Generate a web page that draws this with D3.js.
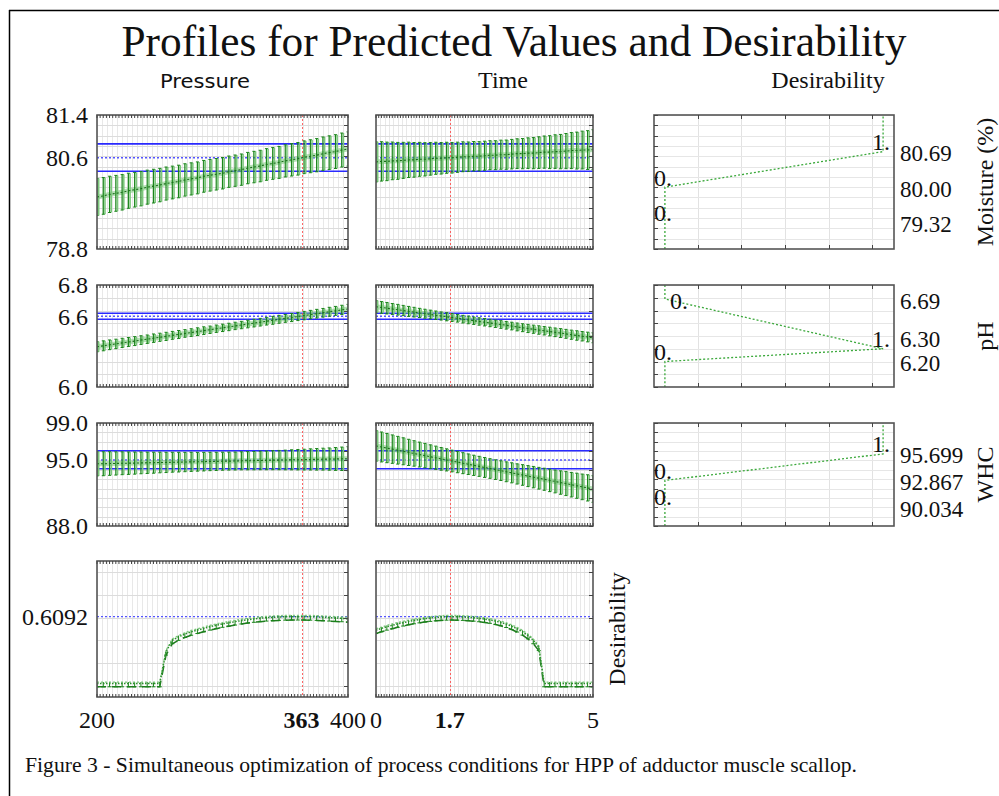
<!DOCTYPE html>
<html><head><meta charset="utf-8">
<script src="https://cdn.jsdelivr.net/npm/d3@7"></script>
<style>body{margin:0;background:#fff}svg{display:block}</style>
</head><body>
<svg id="c" width="999" height="796"></svg>
<script>
// ---------------- DATA ----------------
const titleText = "Profiles for Predicted Values and Desirability";
const captionText = "Figure 3 - Simultaneous optimization of process conditions for HPP of adductor muscle scallop.";
const factorNames = ["Pressure", "Time", "Desirability"];
const responseNames = ["Moisture (%)", "pH", "WHC"];

const pressureLevels = [200,205,210,215,220,225,230,235,240,245,250,255,260,265,270,275,280,285,290,295,300,305,310,315,320,325,330,335,340,345,350,355,360,365,370,375,380,385,390,395,400];
const timeLevels = [0,0.125,0.25,0.375,0.5,0.625,0.75,0.875,1,1.125,1.25,1.375,1.5,1.625,1.75,1.875,2,2.125,2.25,2.375,2.5,2.625,2.75,2.875,3,3.125,3.25,3.375,3.5,3.625,3.75,3.875,4,4.125,4.25,4.375,4.5,4.625,4.75,4.875,5];

const pressureDomain = [200, 400];
const timeDomain = [0, 5];
const optPressure = 363;
const optTime = 1.7;
const pressureTickVals = [200, 363, 400];
const pressureTickText = ["200", "363", "400"];
const timeTickVals = [0, 1.7, 5];
const timeTickText = ["0", "1.7", "5"];

// Moisture (%)
const moistureDomain = [78.8, 81.4];
const moistureGridStep = 0.2;
const moisturePred = 80.57;
const moistureCI = [80.31, 80.84];
const moistureAxisVals = [81.4, 80.57, 78.8];
const moistureAxisText = ["81.4", "80.6", "78.8"];
const moisturePMean = [79.81,79.83,79.86,79.88,79.90,79.93,79.95,79.97,80.00,80.02,80.04,80.07,80.09,80.11,80.14,80.16,80.18,80.21,80.23,80.25,80.27,80.30,80.32,80.34,80.37,80.39,80.41,80.44,80.46,80.48,80.51,80.53,80.55,80.58,80.60,80.62,80.65,80.67,80.69,80.72,80.74];
const moisturePHalf = [0.36,0.356,0.352,0.348,0.344,0.340,0.336,0.333,0.330,0.327,0.324,0.321,0.318,0.316,0.314,0.312,0.310,0.308,0.307,0.306,0.305,0.304,0.304,0.304,0.304,0.305,0.306,0.307,0.308,0.310,0.312,0.314,0.316,0.318,0.320,0.322,0.324,0.326,0.328,0.330,0.332];
const moistureTMean = [80.49,80.50,80.50,80.51,80.51,80.52,80.53,80.53,80.54,80.54,80.55,80.56,80.56,80.57,80.57,80.58,80.59,80.59,80.60,80.60,80.61,80.62,80.62,80.63,80.63,80.64,80.65,80.65,80.66,80.66,80.67,80.68,80.68,80.69,80.69,80.70,80.71,80.71,80.72,80.72,80.73];
const moistureTHalf = [0.390,0.382,0.374,0.366,0.358,0.350,0.343,0.336,0.329,0.323,0.317,0.311,0.306,0.301,0.297,0.293,0.290,0.287,0.285,0.283,0.282,0.281,0.281,0.282,0.284,0.286,0.289,0.293,0.297,0.302,0.307,0.313,0.319,0.326,0.333,0.341,0.349,0.358,0.367,0.376,0.385];
const moistureDesPts = [[0,78.8],[0,80.00],[1,80.69],[1,81.4]];
const moistureDesLabelVals = [[0,80.00],[0,79.32],[1,80.69]];
const moistureDesAxisVals = [80.69, 80.00, 79.32];
const moistureDesAxisText = ["80.69", "80.00", "79.32"];

// pH
const phDomain = [6.0, 6.8];
const phGridStep = 0.1;
const phPred = 6.555;
const phCI = [6.531, 6.578];
const phAxisVals = [6.8, 6.555, 6.0];
const phAxisText = ["6.8", "6.6", "6.0"];
const phPMean = [6.316,6.323,6.331,6.338,6.346,6.353,6.360,6.368,6.375,6.383,6.390,6.397,6.405,6.412,6.420,6.427,6.434,6.442,6.449,6.457,6.464,6.471,6.479,6.486,6.494,6.501,6.508,6.516,6.523,6.531,6.538,6.545,6.553,6.560,6.568,6.575,6.582,6.590,6.597,6.605,6.612];
const phPHalf = [0.040,0.039,0.038,0.037,0.036,0.035,0.035,0.034,0.033,0.033,0.032,0.032,0.031,0.031,0.030,0.030,0.030,0.030,0.029,0.029,0.029,0.029,0.029,0.029,0.030,0.030,0.030,0.030,0.031,0.031,0.031,0.032,0.032,0.033,0.033,0.034,0.034,0.035,0.035,0.036,0.036];
const phTMean = [6.630,6.624,6.618,6.612,6.606,6.600,6.593,6.587,6.581,6.575,6.569,6.563,6.557,6.551,6.545,6.539,6.532,6.526,6.520,6.514,6.508,6.502,6.496,6.490,6.484,6.478,6.471,6.465,6.459,6.453,6.447,6.441,6.435,6.429,6.423,6.417,6.410,6.404,6.398,6.392,6.386];
const phTHalf = [0.048,0.046,0.045,0.043,0.042,0.040,0.039,0.038,0.036,0.035,0.034,0.033,0.032,0.032,0.031,0.030,0.030,0.030,0.029,0.029,0.029,0.029,0.029,0.030,0.030,0.030,0.031,0.031,0.032,0.032,0.033,0.033,0.034,0.034,0.035,0.035,0.036,0.037,0.037,0.038,0.039];
const phDesPts = [[0,6.8],[0,6.69],[1,6.30],[0,6.20],[0,6.0]];
const phDesLabelVals = [[0,6.69],[1,6.30],[0,6.20]];
const phDesAxisVals = [6.69, 6.30, 6.20];
const phDesAxisText = ["6.69", "6.30", "6.20"];

// WHC
const whcDomain = [88.0, 99.0];
const whcGridStep = 1.0;
const whcPred = 95.05;
const whcCI = [94.12, 96.04];
const whcAxisVals = [99.0, 95.05, 88.0];
const whcAxisText = ["99.0", "95.0", "88.0"];
const whcPMean = [94.64,94.65,94.67,94.68,94.70,94.71,94.72,94.74,94.75,94.76,94.78,94.79,94.81,94.82,94.83,94.85,94.86,94.87,94.89,94.90,94.92,94.93,94.94,94.96,94.97,94.98,95.00,95.01,95.03,95.04,95.05,95.07,95.08,95.09,95.11,95.12,95.14,95.15,95.16,95.18,95.19];
const whcPHalf = [1.30,1.28,1.26,1.24,1.22,1.20,1.18,1.16,1.14,1.12,1.10,1.08,1.06,1.05,1.03,1.02,1.00,0.99,0.98,0.97,0.96,0.96,0.96,0.96,0.97,0.98,0.99,1.00,1.02,1.03,1.05,1.07,1.09,1.11,1.13,1.15,1.17,1.19,1.22,1.25,1.28];
const whcTMean = [96.55,96.44,96.32,96.21,96.09,95.98,95.86,95.75,95.63,95.52,95.40,95.29,95.17,95.06,94.94,94.83,94.71,94.60,94.48,94.37,94.25,94.14,94.02,93.91,93.79,93.68,93.56,93.45,93.33,93.22,93.10,92.99,92.87,92.76,92.64,92.53,92.41,92.30,92.18,92.07,91.95];
const whcTHalf = [1.64,1.60,1.56,1.52,1.48,1.44,1.40,1.36,1.33,1.30,1.27,1.24,1.21,1.18,1.16,1.14,1.12,1.10,1.08,1.07,1.06,1.05,1.05,1.05,1.06,1.07,1.08,1.10,1.12,1.14,1.16,1.18,1.20,1.22,1.25,1.28,1.31,1.34,1.37,1.40,1.42];
const whcDesPts = [[0,88.0],[0,92.867],[1,95.699],[1,99.0]];
const whcDesLabelVals = [[1,95.699],[0,92.867],[0,90.034]];
const whcDesAxisVals = [95.699, 92.867, 90.034];
const whcDesAxisText = ["95.699", "92.867", "90.034"];

// Overall desirability
const desirDomain = [-0.1, 1.1];
const desirGrid = [0, 0.2, 0.4, 0.6, 0.8, 1.0];
const desirPred = 0.6092;
const desirAxisText = ["0.6092"];
const desirPMean = [0.02,0.02,0.02,0.02,0.02,0.02,0.02,0.02,0.02,0.02,0.02,0.30,0.40,0.43,0.455,0.475,0.49,0.505,0.52,0.533,0.545,0.555,0.565,0.574,0.582,0.589,0.595,0.600,0.603,0.606,0.608,0.609,0.609,0.609,0.608,0.606,0.603,0.600,0.597,0.594,0.590];
const desirTMean = [0.49,0.505,0.52,0.533,0.545,0.556,0.567,0.576,0.584,0.591,0.597,0.602,0.606,0.608,0.609,0.608,0.606,0.603,0.599,0.594,0.588,0.580,0.570,0.558,0.543,0.525,0.503,0.476,0.443,0.400,0.340,0.02,0.02,0.02,0.02,0.02,0.02,0.02,0.02,0.02,0.02];
const desirBand = 0.03;
const desFuncDomain = [-0.05, 1.05];
const desFuncGrid = [0.15, 0.35, 0.55, 0.75, 0.95];

// ---------------- LAYOUT / STYLE ----------------
const serif = '"Liberation Serif","Times New Roman",Times,serif';
const sans = '"DejaVu Sans",Verdana,sans-serif';
const colP = {x0: 97, x1: 348};
const colT = {x0: 376, x1: 593};
const colD = {x0: 654, x1: 894};
const rows = [{y0:115,y1:249},{y0:285,y1:387},{y0:423,y1:526},{y0:561,y1:697}];
const GREEN = "#1a851a", LGREEN = "#7cc87c";

const svg = d3.select("#c");
const defs = svg.append("defs");
svg.append("rect").attr("width",999).attr("height",796).attr("fill","#fff");

// outer frame
svg.append("line").attr("x1",9.5).attr("x2",9.5).attr("y1",10).attr("y2",796).attr("stroke","#000").attr("stroke-width",1.5);
svg.append("line").attr("x1",9).attr("x2",999).attr("y1",10.5).attr("y2",10.5).attr("stroke","#000").attr("stroke-width",1.5);

// title
svg.append("text").attr("x",514).attr("y",56).attr("text-anchor","middle")
  .attr("font-family",serif).attr("font-size",45).attr("fill","#111")
  .attr("textLength",785).attr("lengthAdjust","spacingAndGlyphs").text(titleText);
// headers
svg.append("text").attr("x",205).attr("y",88).attr("text-anchor","middle").attr("font-family",sans)
  .attr("font-size",20).attr("fill","#111").attr("textLength",90).attr("lengthAdjust","spacingAndGlyphs").text(factorNames[0]);
svg.append("text").attr("x",503).attr("y",88).attr("text-anchor","middle").attr("font-family",serif)
  .attr("font-size",24).attr("fill","#111").text(factorNames[1]);
svg.append("text").attr("x",828).attr("y",88).attr("text-anchor","middle").attr("font-family",serif)
  .attr("font-size",24).attr("fill","#111").text(factorNames[2]);
// caption
svg.append("text").attr("x",25).attr("y",772).attr("font-family",serif).attr("font-size",21.5)
  .attr("fill","#111").attr("textLength",832).attr("lengthAdjust","spacingAndGlyphs").text(captionText);

let clipN = 0;
function clipFor(x0,y0,x1,y1){
  const id = "cp"+(clipN++);
  defs.append("clipPath").attr("id",id).append("rect").attr("x",x0).attr("y",y0).attr("width",x1-x0).attr("height",y1-y0);
  return "url(#"+id+")";
}
function evenTicks(domain, n){
  const out=[]; for(let i=0;i<=n;i++) out.push(domain[0]+(domain[1]-domain[0])*i/n); return out;
}
const crisp = v => Math.round(v)+0.5;

function profilePanel(o){
  const x = d3.scaleLinear().domain(o.xDomain).range([o.col.x0,o.col.x1]);
  const y = d3.scaleLinear().domain(o.yDomain).range([o.row.y1,o.row.y0]);
  const g = svg.append("g");
  const inner = g.append("g").attr("clip-path", clipFor(o.col.x0,o.row.y0,o.col.x1,o.row.y1));
  inner.selectAll(null).data(evenTicks(o.xDomain,50)).join("line")
    .attr("x1",d=>crisp(x(d))).attr("x2",d=>crisp(x(d))).attr("y1",o.row.y0).attr("y2",o.row.y1)
    .attr("stroke","#e8e8e8").attr("stroke-width",1);
  inner.selectAll(null).data(o.hGrid).join("line")
    .attr("x1",o.col.x0).attr("x2",o.col.x1).attr("y1",d=>crisp(y(d))).attr("y2",d=>crisp(y(d)))
    .attr("stroke","#dcdcdc").attr("stroke-width",1);
  if(o.ci){
    o.ci.forEach(v=>inner.append("line").attr("x1",o.col.x0).attr("x2",o.col.x1).attr("y1",y(v)).attr("y2",y(v))
      .attr("stroke","#2a2aff").attr("stroke-width",1.6));
  }
  inner.append("line").attr("x1",o.col.x0).attr("x2",o.col.x1).attr("y1",y(o.pred)).attr("y2",y(o.pred))
    .attr("stroke","#5555ff").attr("stroke-width",1.4).attr("stroke-dasharray","2,2");

  const pts = o.xs.map((xv,i)=>({x:xv, m:o.mean[i], h:o.half?o.half[i]:o.band}));
  const line = d3.line().x(d=>x(d.x));
  if(!o.isDesir){
    inner.append("path").datum(pts).attr("fill","none").attr("stroke",LGREEN).attr("stroke-width",5).attr("opacity",0.55)
      .attr("d", line.y(d=>y(d.m)));
    const bars = inner.selectAll(null).data(pts).join("g");
    bars.append("line").attr("x1",d=>x(d.x)+1.7).attr("x2",d=>x(d.x)+1.7)
      .attr("y1",d=>y(d.m-d.h)).attr("y2",d=>y(d.m+d.h)).attr("stroke",LGREEN).attr("stroke-width",1.6);
    bars.append("line").attr("x1",d=>x(d.x)).attr("x2",d=>x(d.x))
      .attr("y1",d=>y(d.m-d.h)).attr("y2",d=>y(d.m+d.h)).attr("stroke",GREEN).attr("stroke-width",1.2);
    bars.append("line").attr("x1",d=>x(d.x)-1.5).attr("x2",d=>x(d.x)+1.5)
      .attr("y1",d=>y(d.m+d.h)).attr("y2",d=>y(d.m+d.h)).attr("stroke",GREEN).attr("stroke-width",1);
    bars.append("line").attr("x1",d=>x(d.x)-1.5).attr("x2",d=>x(d.x)+1.5)
      .attr("y1",d=>y(d.m-d.h)).attr("y2",d=>y(d.m-d.h)).attr("stroke",GREEN).attr("stroke-width",1);
    inner.append("path").datum(pts).attr("fill","none").attr("stroke","#1a6f1a").attr("stroke-width",1.1)
      .attr("stroke-dasharray","2,2").attr("d", line.y(d=>y(d.m)));
  } else {
    inner.append("path").datum(pts).attr("fill","none").attr("stroke","#1f7a1f").attr("stroke-width",1.5)
      .attr("stroke-dasharray","9,6").attr("d", line.y(d=>y(d.m-d.h)));
    const bars = inner.selectAll(null).data(pts).join("g");
    bars.append("line").attr("x1",d=>x(d.x)).attr("x2",d=>x(d.x))
      .attr("y1",d=>y(d.m-d.h)).attr("y2",d=>y(d.m+d.h*0.4)).attr("stroke",GREEN).attr("stroke-width",1);
    bars.append("line").attr("x1",d=>x(d.x)-2).attr("x2",d=>x(d.x)+2)
      .attr("y1",d=>y(d.m-d.h)).attr("y2",d=>y(d.m-d.h)).attr("stroke",GREEN).attr("stroke-width",1);
    inner.append("path").datum(pts).attr("fill","none").attr("stroke",LGREEN).attr("stroke-width",1.3)
      .attr("stroke-dasharray","2,2").attr("d", line.y(d=>y(d.m+d.h*0.4)));
    inner.append("path").datum(pts).attr("fill","none").attr("stroke","#2a8f2a").attr("stroke-width",1.5)
      .attr("stroke-dasharray","1.5,1.5").attr("d", line.y(d=>y(d.m)));
  }
  inner.append("line").attr("x1",crisp(x(o.opt))).attr("x2",crisp(x(o.opt))).attr("y1",o.row.y0).attr("y2",o.row.y1)
    .attr("stroke","#ff4040").attr("stroke-width",1).attr("stroke-dasharray","2,2").attr("opacity",0.8);
  g.append("rect").attr("x",o.col.x0).attr("y",o.row.y0).attr("width",o.col.x1-o.col.x0).attr("height",o.row.y1-o.row.y0)
    .attr("fill","none").attr("stroke","#555").attr("stroke-width",1.6);
  g.selectAll(null).data(o.hGrid).join("line").attr("x1",o.col.x1-4).attr("x2",o.col.x1)
    .attr("y1",d=>crisp(y(d))).attr("y2",d=>crisp(y(d))).attr("stroke","#444").attr("stroke-width",1);
  const et = evenTicks(o.xDomain,80);
  g.selectAll(null).data(et).join("line").attr("x1",d=>x(d)).attr("x2",d=>x(d))
    .attr("y1",o.row.y0).attr("y2",o.row.y0+3).attr("stroke","#444").attr("stroke-width",1);
  g.selectAll(null).data(et).join("line").attr("x1",d=>x(d)).attr("x2",d=>x(d))
    .attr("y1",o.row.y1-3).attr("y2",o.row.y1).attr("stroke","#444").attr("stroke-width",1);
  return {x,y};
}

function gridVals(domain, step){
  const n = Math.round((domain[1]-domain[0])/step);
  const out=[]; for(let i=0;i<=n;i++) out.push(+(domain[0]+i*step).toFixed(4)); return out;
}

const responses = [
  {domain:moistureDomain, step:moistureGridStep, pred:moisturePred, ci:moistureCI, axisVals:moistureAxisVals, axisText:moistureAxisText,
   pMean:moisturePMean, pHalf:moisturePHalf, tMean:moistureTMean, tHalf:moistureTHalf,
   desPts:moistureDesPts, desLabs:moistureDesLabelVals, desAxisVals:moistureDesAxisVals, desAxisText:moistureDesAxisText},
  {domain:phDomain, step:phGridStep, pred:phPred, ci:phCI, axisVals:phAxisVals, axisText:phAxisText,
   pMean:phPMean, pHalf:phPHalf, tMean:phTMean, tHalf:phTHalf,
   desPts:phDesPts, desLabs:phDesLabelVals, desAxisVals:phDesAxisVals, desAxisText:phDesAxisText},
  {domain:whcDomain, step:whcGridStep, pred:whcPred, ci:whcCI, axisVals:whcAxisVals, axisText:whcAxisText,
   pMean:whcPMean, pHalf:whcPHalf, tMean:whcTMean, tHalf:whcTHalf,
   desPts:whcDesPts, desLabs:whcDesLabelVals, desAxisVals:whcDesAxisVals, desAxisText:whcDesAxisText}
];

responses.forEach((r,ri)=>{
  const row = rows[ri];
  const hGrid = gridVals(r.domain, r.step);
  const sp = profilePanel({col:colP,row,xDomain:pressureDomain,yDomain:r.domain,xs:pressureLevels,mean:r.pMean,half:r.pHalf,
    pred:r.pred,ci:r.ci,hGrid,opt:optPressure});
  profilePanel({col:colT,row,xDomain:timeDomain,yDomain:r.domain,xs:timeLevels,mean:r.tMean,half:r.tHalf,
    pred:r.pred,ci:r.ci,hGrid,opt:optTime});
  svg.selectAll(null).data(r.axisVals).join("text").attr("x",88).attr("y",d=>sp.y(d))
    .attr("dy","0.35em").attr("text-anchor","end").attr("font-family",serif).attr("font-size",24).attr("fill","#111")
    .text((d,i)=>r.axisText[i]);

  const x = d3.scaleLinear().domain(desFuncDomain).range([colD.x0,colD.x1]);
  const y = d3.scaleLinear().domain(r.domain).range([row.y1,row.y0]);
  const g = svg.append("g");
  const inner = g.append("g").attr("clip-path", clipFor(colD.x0,row.y0,colD.x1,row.y1));
  inner.selectAll(null).data(desFuncGrid).join("line").attr("x1",d=>crisp(x(d))).attr("x2",d=>crisp(x(d)))
    .attr("y1",row.y0).attr("y2",row.y1).attr("stroke","#e2e2e2");
  inner.selectAll(null).data(hGrid).join("line").attr("x1",colD.x0).attr("x2",colD.x1)
    .attr("y1",d=>crisp(y(d))).attr("y2",d=>crisp(y(d))).attr("stroke","#e6e6e6");
  inner.append("path").datum(r.desPts).attr("fill","none").attr("stroke","#3aa83a").attr("stroke-width",1.3)
    .attr("stroke-dasharray","2,2").attr("d", d3.line().x(d=>x(d[0])).y(d=>y(d[1])));
  g.append("rect").attr("x",colD.x0).attr("y",row.y0).attr("width",colD.x1-colD.x0).attr("height",row.y1-row.y0)
    .attr("fill","none").attr("stroke","#555").attr("stroke-width",1.6);
  g.selectAll(null).data(hGrid).join("line").attr("x1",colD.x0).attr("x2",colD.x0+4)
    .attr("y1",d=>crisp(y(d))).attr("y2",d=>crisp(y(d))).attr("stroke","#444");
  g.selectAll(null).data(desFuncGrid).join("line").attr("x1",d=>crisp(x(d))).attr("x2",d=>crisp(x(d)))
    .attr("y1",row.y0).attr("y2",row.y0+4).attr("stroke","#444");
  g.selectAll(null).data(desFuncGrid).join("line").attr("x1",d=>crisp(x(d))).attr("x2",d=>crisp(x(d)))
    .attr("y1",row.y1-4).attr("y2",row.y1).attr("stroke","#444");
  const mid = (r.domain[0]+r.domain[1])/2;
  g.selectAll(null).data(r.desLabs).join("text")
    .attr("x",d=> (d[0]===0 && d[1]>mid) ? x(d[0])+5 : x(d[0])-2)
    .attr("y",d=> (d[0]===0 && d[1]>mid) ? y(d[1])+2 : y(d[1])-10)
    .attr("dy","0.35em").attr("text-anchor",d=> (d[0]===0 && d[1]>mid) ? "start" : "middle")
    .attr("font-family",serif).attr("font-size",24).attr("fill","#111").text(d=>d[0]===0?"0.":"1.");
  const ys = r.desAxisVals.map(v=>y(v)+1.5);
  for(let i=ys.length-2;i>=0;i--){ if(ys[i] > ys[i+1]-24) ys[i] = ys[i+1]-24; }
  g.selectAll(null).data(r.desAxisVals).join("text").attr("x",900).attr("y",(d,i)=>ys[i]).attr("dy","0.35em")
    .attr("font-family",serif).attr("font-size",23).attr("fill","#111").text((d,i)=>r.desAxisText[i]);
  const cy = (row.y0+row.y1)/2;
  svg.append("text").attr("transform",`translate(985,${cy}) rotate(-90)`).attr("dy","0.35em").attr("text-anchor","middle")
    .attr("font-family",serif).attr("font-size",24).attr("fill","#111").text(responseNames[ri]);
});

const dp = profilePanel({col:colP,row:rows[3],xDomain:pressureDomain,yDomain:desirDomain,xs:pressureLevels,mean:desirPMean,band:desirBand,
  pred:desirPred,hGrid:desirGrid,opt:optPressure,isDesir:true});
const dt = profilePanel({col:colT,row:rows[3],xDomain:timeDomain,yDomain:desirDomain,xs:timeLevels,mean:desirTMean,band:desirBand,
  pred:desirPred,hGrid:desirGrid,opt:optTime,isDesir:true});
svg.append("text").attr("x",88).attr("y",dp.y(desirPred)).attr("dy","0.35em").attr("text-anchor","end")
  .attr("font-family",serif).attr("font-size",24).attr("fill","#111").text(desirAxisText[0]);
svg.append("text").attr("transform",`translate(617,${(rows[3].y0+rows[3].y1)/2}) rotate(-90)`).attr("dy","0.35em")
  .attr("text-anchor","middle").attr("font-family",serif).attr("font-size",24).attr("fill","#111").text(factorNames[2]);

svg.selectAll(null).data(pressureTickVals).join("text").attr("x",d=>dp.x(d)).attr("y",720).attr("dy","0.35em")
  .attr("text-anchor","middle").attr("font-family",serif).attr("font-size",24).attr("fill","#111")
  .attr("font-weight",d=>d===optPressure?"bold":"normal").text((d,i)=>pressureTickText[i]);
svg.selectAll(null).data(timeTickVals).join("text").attr("x",d=>dt.x(d)).attr("y",720).attr("dy","0.35em")
  .attr("text-anchor","middle").attr("font-family",serif).attr("font-size",24).attr("fill","#111")
  .attr("font-weight",d=>d===optTime?"bold":"normal").text((d,i)=>timeTickText[i]);
</script>
</body></html>
